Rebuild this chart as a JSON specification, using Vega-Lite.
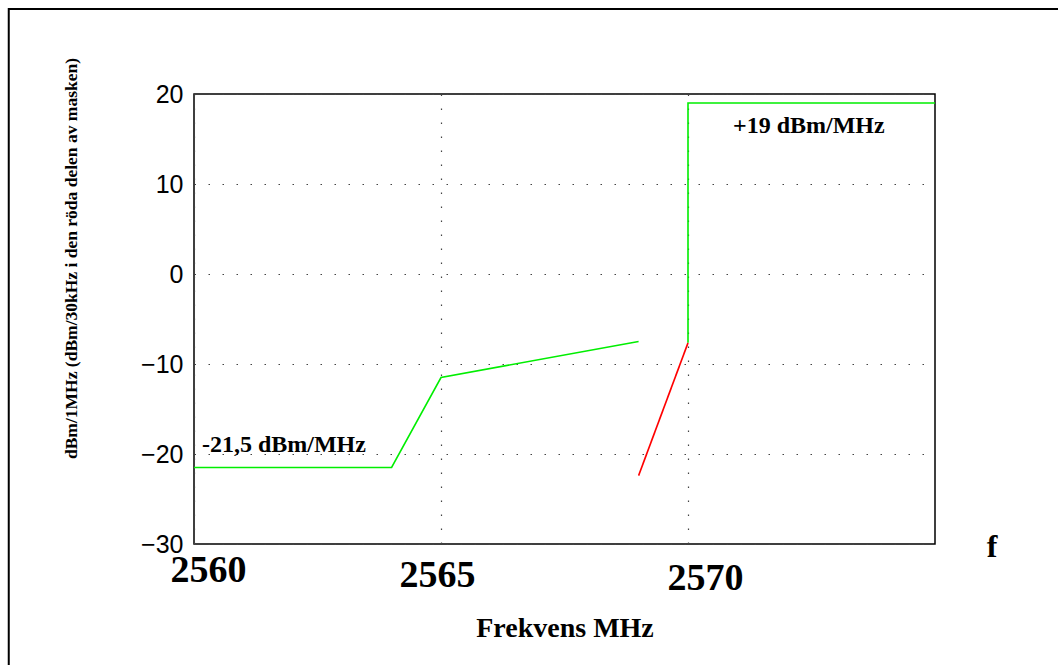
{
  "$schema": "https://vega.github.io/schema/vega-lite/v6.json",
  "width": 741,
  "height": 450,
  "autosize": {"type": "none"},
  "padding": {"left": 194, "top": 94, "right": 123, "bottom": 121},
  "background": "#ffffff",
  "config": {
    "view": {"stroke": "#000000", "strokeWidth": 1.5},
    "axis": {"domain": false, "ticks": false, "tickSize": 0}
  },
  "datasets": {
    "frame": [
      {"x1": 2556.25, "x2": 2582, "y1": 29.45, "y2": -44}
    ],
    "lines": [
      {"series": "A", "o": 0, "f": 2560, "v": -21.5},
      {"series": "A", "o": 1, "f": 2564, "v": -21.5},
      {"series": "A", "o": 2, "f": 2565, "v": -11.5},
      {"series": "A", "o": 3, "f": 2569, "v": -7.5},
      {"series": "B", "o": 0, "f": 2570, "v": -7.65},
      {"series": "B", "o": 1, "f": 2570, "v": 19},
      {"series": "B", "o": 2, "f": 2575, "v": 19},
      {"series": "R", "o": 0, "f": 2569, "v": -22.4},
      {"series": "R", "o": 1, "f": 2570, "v": -7.65}
    ],
    "notes": [
      {"f": 2560.16, "v": -19.8, "label": "-21,5 dBm/MHz", "size": 24},
      {"f": 2570.91, "v": 15.7, "label": "+19 dBm/MHz", "size": 24},
      {"f": 2576.05, "v": -31.45, "label": "f", "size": 32}
    ]
  },
  "layer": [
    {
      "data": {"name": "frame"},
      "mark": {"type": "rect", "filled": false, "fill": "transparent", "stroke": "#000000", "strokeWidth": 2},
      "encoding": {
        "x": {"field": "x1", "type": "quantitative"},
        "x2": {"field": "x2"},
        "y": {"field": "y1", "type": "quantitative"},
        "y2": {"field": "y2"}
      }
    },
    {
      "data": {"name": "lines"},
      "mark": {"type": "line", "strokeWidth": 1.6},
      "encoding": {
        "x": {
          "field": "f", "type": "quantitative",
          "scale": {"domain": [2560, 2575], "nice": false, "zero": false},
          "axis": {
            "values": [2560, 2565, 2570],
            "format": "d",
            "grid": true,
            "gridColor": "#444444",
            "gridDash": [1.5, 12.5],
            "gridWidth": 1.2,
            "labelFont": "Liberation Serif",
            "labelFontWeight": "bold",
            "labelFontSize": 38,
            "labelColor": "#000000",
            "labelBaseline": "top",
            "labelFlush": false,
            "labelOverlap": false,
            "labelOffset": {"condition": [{"test": "datum.value == 2560", "value": 14}, {"test": "datum.value == 2570", "value": 17}], "value": -4},
            "labelPadding": {"condition": [{"test": "datum.value == 2560", "value": 7}, {"test": "datum.value == 2570", "value": 15}], "value": 12},
            "title": "Frekvens MHz",
            "titleFont": "Liberation Serif",
            "titleFontWeight": "bold",
            "titleFontSize": 28,
            "titleColor": "#000000",
            "titleBaseline": "alphabetic",
            "titleY": 92
          }
        },
        "y": {
          "field": "v", "type": "quantitative",
          "scale": {"domain": [-30, 20], "nice": false, "zero": false},
          "axis": {
            "values": [-30, -20, -10, 0, 10, 20],
            "grid": true,
            "gridColor": "#444444",
            "gridDash": [1.5, 12.5],
            "gridWidth": 1.2,
            "labelFont": "Liberation Sans",
            "labelFontSize": 25,
            "labelColor": "#000000",
            "labelPadding": 11,
            "labelFlush": false,
            "labelOverlap": false,
            "title": "dBm/1MHz (dBm/30kHz i den röda delen av masken)",
            "titleFont": "Liberation Serif",
            "titleFontWeight": "bold",
            "titleFontSize": 17.5,
            "titleColor": "#000000",
            "titleBaseline": "bottom",
            "titleX": -114,
            "titleY": 164
          }
        },
        "color": {
          "field": "series", "type": "nominal",
          "scale": {"domain": ["A", "B", "R"], "range": ["#00ee00", "#00ee00", "#ff0000"]},
          "legend": null
        },
        "order": {"field": "o", "type": "quantitative"}
      }
    },
    {
      "data": {"name": "notes"},
      "mark": {"type": "text", "align": "left", "baseline": "alphabetic", "font": "Liberation Serif", "fontWeight": "bold", "color": "#000000"},
      "encoding": {
        "x": {"field": "f", "type": "quantitative"},
        "y": {"field": "v", "type": "quantitative"},
        "text": {"field": "label"},
        "size": {"field": "size", "type": "quantitative", "scale": null}
      }
    }
  ]
}
